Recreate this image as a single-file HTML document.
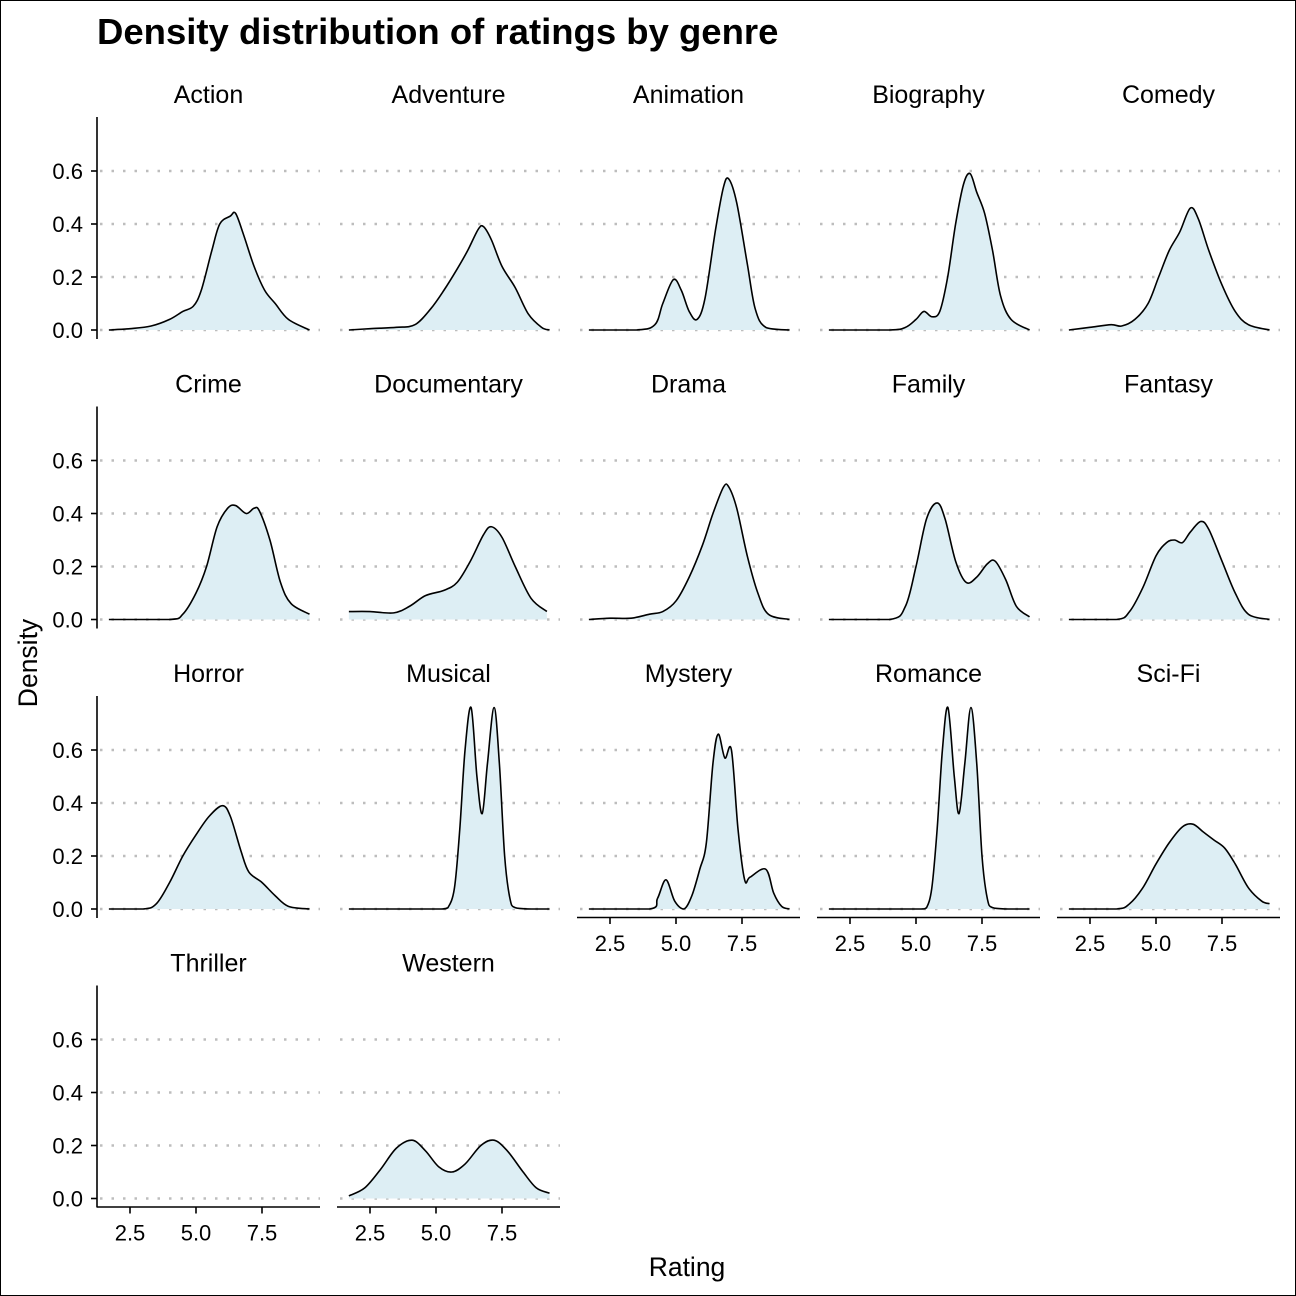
<!DOCTYPE html>
<html><head><meta charset="utf-8">
<style>
html,body{margin:0;padding:0;background:#fff;}
svg{display:block;font-family:"Liberation Sans",Arial,sans-serif;}
</style></head>
<body>
<svg id="chart" width="1296" height="1296" viewBox="0 0 1296 1296">
<rect x="0.5" y="0.5" width="1295" height="1295" fill="#fff" stroke="#000" stroke-width="1"/>
<text x="97" y="44" font-size="36.5" font-weight="bold" fill="#000">Density distribution of ratings by genre</text>
<text x="687" y="1276" font-size="26.5" text-anchor="middle">Rating</text>
<text x="0" y="0" font-size="26.5" text-anchor="middle" transform="translate(37,663) rotate(-90)">Density</text>
<g id="panels"></g>
</svg>
<script>
const genres = ["Action","Adventure","Animation","Biography","Comedy","Crime","Documentary","Drama","Family","Fantasy","Horror","Musical","Mystery","Romance","Sci-Fi","Thriller","Western"];
const yTicks = [0, 0.2, 0.4, 0.6];
const yTickLabels = ["0.0","0.2","0.4","0.6"];
const xTicks = [2.5, 5.0, 7.5];
const xTickLabels = ["2.5","5.0","7.5"];

const ratingsAction = [1.7,2.5,3.3,4.0,4.5,4.9,5.2,5.6,5.9,6.3,6.5,6.8,7.2,7.6,8.0,8.5,9.3];
const densAction    = [0,0.005,0.015,0.04,0.07,0.09,0.15,0.3,0.40,0.43,0.44,0.36,0.24,0.15,0.1,0.04,0];
const ratingsAdventure = [1.7,2.5,3.5,4.2,4.8,5.3,5.8,6.2,6.6,6.8,7.1,7.5,8.0,8.5,9.0,9.3];
const densAdventure    = [0,0.005,0.01,0.02,0.08,0.15,0.23,0.30,0.38,0.39,0.34,0.24,0.16,0.06,0.01,0];
const ratingsAnimation = [1.7,3.5,4.2,4.5,4.9,5.2,5.5,5.8,6.1,6.5,6.8,7.0,7.3,7.7,8.0,8.4,9.3];
const densAnimation    = [0,0,0.02,0.1,0.19,0.15,0.07,0.04,0.12,0.38,0.54,0.57,0.48,0.25,0.08,0.01,0];
const ratingsBiography = [1.7,4.0,4.6,5.0,5.3,5.6,5.9,6.2,6.5,6.8,7.05,7.3,7.6,7.9,8.2,8.6,9.3];
const densBiography    = [0,0,0.01,0.04,0.07,0.05,0.07,0.2,0.4,0.55,0.59,0.52,0.44,0.3,0.13,0.04,0];
const ratingsComedy = [1.7,2.5,3.3,3.7,4.2,4.7,5.1,5.5,5.9,6.3,6.6,7.0,7.5,8.0,8.5,9.3];
const densComedy    = [0,0.01,0.02,0.015,0.04,0.1,0.2,0.3,0.37,0.46,0.42,0.3,0.17,0.07,0.02,0];
const ratingsCrime = [1.7,4.0,4.5,5.0,5.4,5.8,6.2,6.5,6.9,7.2,7.4,7.8,8.2,8.6,9.3];
const densCrime    = [0,0,0.02,0.1,0.2,0.35,0.42,0.43,0.40,0.42,0.41,0.3,0.14,0.06,0.02];
const ratingsDocumentary = [1.7,2.5,3.4,4.0,4.6,5.3,5.8,6.3,6.8,7.1,7.5,8.0,8.6,9.2];
const densDocumentary    = [0.03,0.03,0.025,0.05,0.09,0.11,0.14,0.22,0.32,0.35,0.31,0.2,0.08,0.03];
const ratingsDrama = [1.7,2.5,3.3,4.0,4.5,5.0,5.5,6.0,6.4,6.8,7.0,7.3,7.7,8.1,8.5,9.3];
const densDrama    = [0,0.005,0.005,0.02,0.03,0.07,0.16,0.28,0.4,0.5,0.5,0.42,0.24,0.1,0.02,0];
const ratingsFamily = [1.7,4.0,4.6,5.0,5.4,5.8,6.1,6.5,6.9,7.3,7.7,8.0,8.4,8.8,9.3];
const densFamily    = [0,0,0.05,0.2,0.38,0.44,0.38,0.22,0.14,0.16,0.21,0.22,0.15,0.05,0.01];
const ratingsFantasy = [1.7,3.5,4.0,4.5,5.0,5.4,5.7,6.0,6.3,6.7,7.0,7.5,8.0,8.5,9.3];
const densFantasy    = [0,0,0.03,0.12,0.24,0.29,0.3,0.29,0.33,0.37,0.34,0.22,0.1,0.02,0];
const ratingsHorror = [1.7,3.0,3.5,4.0,4.5,5.0,5.5,6.0,6.3,6.7,7.0,7.5,8.0,8.5,9.3];
const densHorror    = [0,0,0.02,0.1,0.2,0.28,0.35,0.39,0.35,0.22,0.14,0.1,0.05,0.01,0];
const ratingsMusical = [1.7,4.5,5.2,5.45,5.7,5.9,6.1,6.33,6.55,6.75,6.95,7.2,7.4,7.6,7.8,8.0,8.6,9.3];
const densMusical    = [0,0,0,0.005,0.08,0.3,0.6,0.76,0.5,0.36,0.55,0.76,0.55,0.2,0.04,0.005,0,0];
const ratingsMystery = [1.7,4.0,4.3,4.62,4.95,5.3,5.6,5.9,6.15,6.4,6.6,6.85,7.1,7.35,7.6,7.8,8.4,8.7,9.0,9.3];
const densMystery    = [0,0,0.04,0.11,0.03,0,0.05,0.15,0.25,0.55,0.66,0.57,0.6,0.3,0.11,0.12,0.15,0.06,0.01,0];
const ratingsRomance = [1.7,4.5,5.2,5.4,5.6,5.8,6.0,6.21,6.45,6.63,6.85,7.08,7.3,7.5,7.7,7.9,8.5,9.3];
const densRomance    = [0,0,0,0.005,0.08,0.3,0.6,0.76,0.5,0.36,0.55,0.76,0.55,0.2,0.04,0.005,0,0];
const ratingsSciFi = [1.7,3.5,4.0,4.5,5.0,5.5,6.0,6.4,6.8,7.2,7.6,8.0,8.5,9.0,9.3];
const densSciFi    = [0,0,0.02,0.08,0.17,0.25,0.31,0.32,0.29,0.26,0.23,0.17,0.08,0.03,0.02];
const ratingsThriller = [];
const densThriller    = [];
const ratingsWestern = [1.7,2.3,2.9,3.5,4.1,4.6,5.1,5.6,6.1,6.7,7.2,7.7,8.3,8.8,9.3];
const densWestern    = [0.01,0.04,0.11,0.19,0.22,0.18,0.12,0.1,0.13,0.2,0.22,0.18,0.1,0.04,0.02];

const seriesRatings = [ratingsAction,ratingsAdventure,ratingsAnimation,ratingsBiography,ratingsComedy,ratingsCrime,ratingsDocumentary,ratingsDrama,ratingsFamily,ratingsFantasy,ratingsHorror,ratingsMusical,ratingsMystery,ratingsRomance,ratingsSciFi,ratingsThriller,ratingsWestern];
const seriesDens = [densAction,densAdventure,densAnimation,densBiography,densComedy,densCrime,densDocumentary,densDrama,densFamily,densFantasy,densHorror,densMusical,densMystery,densRomance,densSciFi,densThriller,densWestern];

const NS = "http://www.w3.org/2000/svg";
const root = document.getElementById("panels");
const PW = 223;
function colLeft(c){ return 97 + 240*c; }
function rowZero(r){ return 330 + 289.5*r; }
function xScale(c, v){ return colLeft(c) + 33 + (v - 2.5)*26.4; }
function yScale(r, d){ return rowZero(r) - d*265; }
function mk(tag, attrs, parent){
  const e = document.createElementNS(NS, tag);
  for (const k in attrs) e.setAttribute(k, attrs[k]);
  parent.appendChild(e);
  return e;
}
function slug(s){ return s.toLowerCase().replace(/[^a-z0-9]+/g,'-'); }
function smoothPath(pts, Z){
  let d = "M" + pts[0][0].toFixed(2) + "," + pts[0][1].toFixed(2);
  for (let i=0;i<pts.length-1;i++){
    const p0 = pts[i-1]||pts[i], p1 = pts[i], p2 = pts[i+1], p3 = pts[i+2]||p2;
    const t = 0.5/3;
    let c1x = p1[0] + (p2[0]-p0[0])*t, c1y = Math.min(Z, p1[1] + (p2[1]-p0[1])*t);
    let c2x = p2[0] - (p3[0]-p1[0])*t, c2y = Math.min(Z, p2[1] - (p3[1]-p1[1])*t);
    d += " C" + c1x.toFixed(2)+","+c1y.toFixed(2)+" "+c2x.toFixed(2)+","+c2y.toFixed(2)+" "+p2[0].toFixed(2)+","+p2[1].toFixed(2);
  }
  return d;
}

genres.forEach((g, i) => {
  const c = i % 5, r = Math.floor(i / 5);
  const L = colLeft(c), Z = rowZero(r);
  const gp = mk("g", {}, root);
  
  

  const st = mk("text", {x: L + PW/2, y: Z - 227, "font-size": 25, "text-anchor": "middle"}, gp);
  st.textContent = g;
  
  

  yTicks.forEach((t) => {
    const gl = mk("line", {x1: L + 3, x2: L + PW, y1: yScale(r,t), y2: yScale(r,t), stroke: "#bdbdbd", "stroke-width": 2.5, "stroke-dasharray": "2.5 9"}, gp);
    
    
  });

  const xs = seriesRatings[i], ds = seriesDens[i];
  if (xs.length){
    const pts = xs.map((v, k) => [xScale(c, v), yScale(r, Math.max(0, ds[k]))]);
    const line = smoothPath(pts, Z);
    const area = mk("path", {d: line + " L" + pts[pts.length-1][0].toFixed(2) + "," + Z + " L" + pts[0][0].toFixed(2) + "," + Z + " Z", fill: "#ddeef4", stroke: "none"}, gp);
    
    
    const ln = mk("path", {d: line, fill: "none", stroke: "#000", "stroke-width": 1.6, "stroke-linejoin": "round"}, gp);
    
    
  }

  if (c === 0){
    const ax = mk("line", {x1: L, x2: L, y1: Z - 213, y2: Z + 9, stroke: "#000", "stroke-width": 1.6}, gp);
    
    
    yTicks.forEach((t, k) => {
      const tk = mk("line", {x1: L - 6, x2: L, y1: yScale(r,t), y2: yScale(r,t), stroke: "#000", "stroke-width": 1.6}, gp);
      
      
      const tl = mk("text", {x: L - 14, y: yScale(r,t) + 8, "font-size": 22, "text-anchor": "end"}, gp);
      tl.textContent = yTickLabels[k];
      
      
    });
  }

  if (i >= 12){
    const bx = mk("line", {x1: L, x2: L + PW, y1: Z + 8.5, y2: Z + 8.5, stroke: "#000", "stroke-width": 1.6}, gp);
    
    
    xTicks.forEach((t, k) => {
      const tk = mk("line", {x1: xScale(c,t), x2: xScale(c,t), y1: Z + 8.5, y2: Z + 15, stroke: "#000", "stroke-width": 1.6}, gp);
      
      
      const tl = mk("text", {x: xScale(c,t), y: Z + 42, "font-size": 22, "text-anchor": "middle"}, gp);
      tl.textContent = xTickLabels[k];
      
      
    });
  }
});
</script>
</body></html>
